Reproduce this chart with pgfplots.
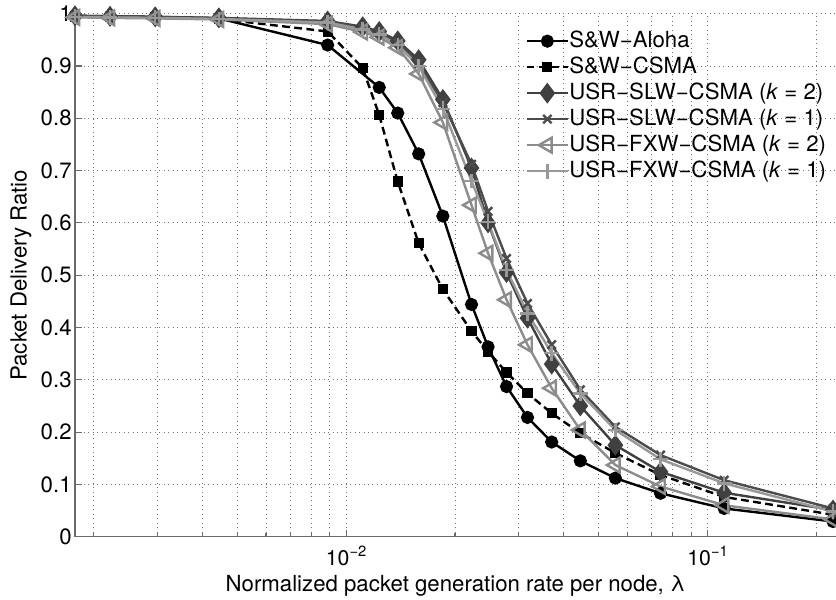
\documentclass[border=0pt]{standalone}
\usepackage{fontspec}
\setmainfont{TeX Gyre Heros}
\usepackage{pgfplots}
\pgfplotsset{compat=1.18}
\definecolor{cA}{gray}{0.25}
\definecolor{cB}{gray}{0.30}
\definecolor{cC}{gray}{0.55}
\definecolor{cD}{gray}{0.60}
\definecolor{axc}{gray}{0.42}
\definecolor{grc}{gray}{0.45}
\newcommand{\tenpow}[1]{10\raisebox{4.9pt}{\fontsize{8pt}{8pt}\selectfont −#1}}
\begin{document}
\begin{tikzpicture}[font=\fontsize{12pt}{14pt}\selectfont]
\begin{axis}[
  scale only axis, width=411.35pt, height=282.7pt,
  xmode=log, xmin=0.0017778, xmax=0.2265, ymin=0, ymax=1,
  axis x line*=bottom, axis y line*=left,
  axis line style={-, draw=axc, line width=0.7pt},
  xtick={0.01,0.1}, xticklabels={\tenpow{2},\tenpow{1}},
  minor xtick={0.002,0.003,0.004,0.005,0.006,0.007,0.008,0.009,0.02,0.03,0.04,0.05,0.06,0.07,0.08,0.09,0.2},
  ytick={0,0.1,0.2,0.3,0.4,0.5,0.6,0.7,0.8,0.9,1},
  yticklabels={0,0.1,0.2,0.3,0.4,0.5,0.6,0.7,0.8,0.9,1},
  tick align=inside, major tick length=3.8pt, minor tick length=2.2pt,
  every tick/.style={axc, line width=0.6pt},
  xmajorgrids, xminorgrids, ymajorgrids,
  major grid style={dotted, grc, line width=0.5pt},
  minor grid style={dotted, grc, line width=0.5pt},
  xticklabel style={anchor=base, yshift=-15.8pt, font=\fontsize{11.5pt}{13pt}\selectfont},
  yticklabel style={xshift=1.7pt},
  xlabel={Normalized packet generation rate per node, λ},
  ylabel={Packet Delivery Ratio},
  xlabel style={at={(axis description cs:0.5,0)}, anchor=base, yshift=-29.4pt},
  ylabel style={at={(axis description cs:-0.06345,0.5)}, anchor=base},
  clip=false,
  legend cell align=left,
  legend style={at={(axis description cs:0.5913,0.973)}, anchor=north west,
    draw=none, fill=none, inner sep=0pt, row sep=0pt,
    nodes={inner sep=0pt, text height=10.3pt, text depth=3.75pt},
    /tikz/every even column/.append style={column sep=2.8pt}},
  legend image code/.code={\draw[mark repeat=2,mark phase=2] plot coordinates {(0pt,0pt)(11.25pt,0pt)(22.5pt,0pt)};},
]
\addplot[black, line width=1.3pt, mark=*, mark size=2.9pt, mark options={solid, fill=black}] coordinates {
(0.0017778,0.996) (0.0022222,0.995) (0.0029630,0.994) (0.0044444,0.991)
(0.0088889,0.940) (0.0123457,0.859) (0.0138889,0.810) (0.0158730,0.732)
(0.0185185,0.613) (0.0222222,0.444) (0.0246914,0.363) (0.0277778,0.287)
(0.0317460,0.228) (0.0370370,0.181) (0.0444444,0.145) (0.0555556,0.112)
(0.0740741,0.083) (0.1111111,0.054) (0.2222222,0.029)};
\addlegendentry{S\&W−Aloha}
\addplot[black, line width=1.3pt, dash pattern=on 4.2pt off 2.4pt, mark=square*, mark size=2.1pt, mark options={solid, fill=black}] coordinates {
(0.0017778,0.994) (0.0022222,0.993) (0.0029630,0.993) (0.0044444,0.990)
(0.0088889,0.966) (0.0111111,0.896) (0.0123457,0.806) (0.0138889,0.679)
(0.0158730,0.561) (0.0185185,0.473) (0.0222222,0.393) (0.0246914,0.354)
(0.0277778,0.314) (0.0317460,0.274) (0.0370370,0.236) (0.0444444,0.198)
(0.0555556,0.160) (0.0740741,0.118) (0.1111111,0.076) (0.2222222,0.042)};
\addlegendentry{S\&W−CSMA}
\addplot[cA, line width=1.3pt, mark=diamond*, mark size=4.6pt, mark options={solid, fill=cA}] coordinates {
(0.0017778,0.996) (0.0022222,0.995) (0.0029630,0.994) (0.0044444,0.992)
(0.0088889,0.986) (0.0111111,0.975) (0.0123457,0.966) (0.0138889,0.948)
(0.0158730,0.912) (0.0185185,0.836) (0.0222222,0.705) (0.0246914,0.600)
(0.0277778,0.505) (0.0317460,0.418) (0.0370370,0.330) (0.0444444,0.250)
(0.0555556,0.175) (0.0740741,0.124) (0.1111111,0.084) (0.2222222,0.051)};
\addlegendentry{USR−SLW−CSMA (\textit{k} = 2)}
\addplot[cB, line width=1.3pt, mark=x, mark size=3.2pt, mark options={solid}] coordinates {
(0.0017778,0.995) (0.0022222,0.994) (0.0029630,0.993) (0.0044444,0.991)
(0.0088889,0.985) (0.0111111,0.973) (0.0123457,0.963) (0.0138889,0.945)
(0.0158730,0.905) (0.0185185,0.830) (0.0222222,0.712) (0.0246914,0.622)
(0.0277778,0.532) (0.0317460,0.446) (0.0370370,0.367) (0.0444444,0.281)
(0.0555556,0.210) (0.0740741,0.156) (0.1111111,0.108) (0.2222222,0.054)};
\addlegendentry{USR−SLW−CSMA (\textit{k} = 1)}
\addplot[cC, line width=1.3pt, mark=triangle, mark size=4.6pt, mark options={solid, rotate=90}] coordinates {
(0.0017778,0.993) (0.0022222,0.992) (0.0029630,0.991) (0.0044444,0.989)
(0.0088889,0.980) (0.0111111,0.965) (0.0123457,0.955) (0.0138889,0.935)
(0.0158730,0.885) (0.0185185,0.792) (0.0222222,0.634) (0.0246914,0.542)
(0.0277778,0.453) (0.0317460,0.367) (0.0370370,0.284) (0.0444444,0.204)
(0.0555556,0.137) (0.0740741,0.096) (0.1111111,0.060) (0.2222222,0.033)};
\addlegendentry{USR−FXW−CSMA (\textit{k} = 2)}
\addplot[cD, line width=1.3pt, mark=+, mark size=4pt, mark options={solid}] coordinates {
(0.0017778,0.994) (0.0022222,0.993) (0.0029630,0.992) (0.0044444,0.990)
(0.0088889,0.983) (0.0111111,0.970) (0.0123457,0.960) (0.0138889,0.940)
(0.0158730,0.900) (0.0185185,0.818) (0.0222222,0.680) (0.0246914,0.602)
(0.0277778,0.510) (0.0317460,0.427) (0.0370370,0.351) (0.0444444,0.274)
(0.0555556,0.204) (0.0740741,0.148) (0.1111111,0.102) (0.2222222,0.048)};
\addlegendentry{USR−FXW−CSMA (\textit{k} = 1)}
\end{axis}
\pgfresetboundingbox
\path ([xshift=-40.54pt,yshift=-34.2pt]current axis.south west) rectangle ([yshift=7.4pt]current axis.north east);
\end{tikzpicture}
\end{document}
